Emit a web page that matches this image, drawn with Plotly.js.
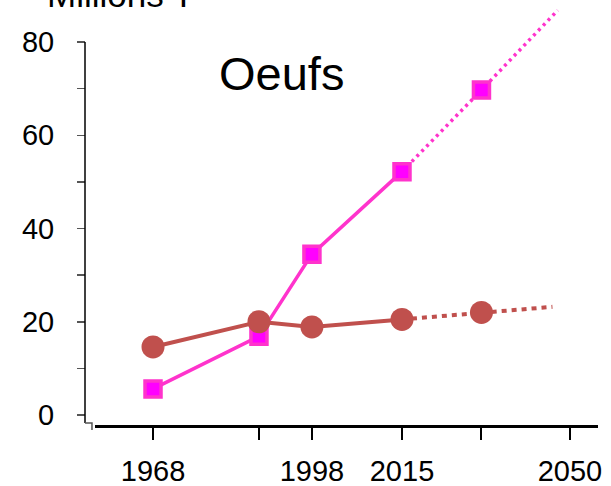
<!DOCTYPE html>
<html>
<head>
<meta charset="utf-8">
<script src="https://cdn.plot.ly/plotly-3.0.1.min.js"></script>
<style>
  html, body { margin: 0; padding: 0; background: #fff; }
  #chart { width: 611px; height: 486px; }
</style>
</head>
<body>
<div id="chart"></div>
<script>
// observed years and values (millions of tonnes)
var years = [1968, 1988, 1998, 2015];
var eggsPink = [5.6, 16.9, 34.5, 52.2];
var otherBrown = [14.6, 20.0, 18.9, 20.5];

// projections (dotted part)
var projYears = [2015, 2030];
var projPink = [52.2, 69.7];
var projBrown = [20.5, 22.0];
var projEnd = {pinkYear: 2044.4, pink: 86.8, brownYear: 2043.4, brown: 23.2};

// axis labels
var yTicks = [0, 10, 20, 30, 40, 50, 60, 70, 80];
var yTickText = ['0', '', '20', '', '40', '', '60', '', '80'];
var xTicks = [1968, 1988, 1998, 2015, 2030, 2046.7];
var xTickText = ['1968', '', '1998', '2015', '', '2050'];

var pink = '#ff33cc';
var brown = '#c0504d';

var traces = [
  // dotted projections first so markers sit on top
  {
    x: projYears.concat([projEnd.pinkYear]),
    y: projPink.concat([projEnd.pink]),
    mode: 'lines', line: {color: pink, width: 3.5, dash: '3px,4px'},
    hoverinfo: 'skip'
  },
  {
    x: projYears.concat([projEnd.brownYear]),
    y: projBrown.concat([projEnd.brown]),
    mode: 'lines', line: {color: brown, width: 4, dash: '5px,5px'},
    hoverinfo: 'skip'
  },
  {
    x: years, y: eggsPink,
    mode: 'lines', line: {color: pink, width: 3.5}
  },
  {
    x: years, y: otherBrown,
    mode: 'lines', line: {color: brown, width: 4}
  },
  {
    x: years.concat([projYears[1]]), y: eggsPink.concat([projPink[1]]),
    mode: 'markers',
    marker: {symbol: 'square', size: 16, color: '#ff00ff', line: {color: pink, width: 3.5}},
    cliponaxis: false
  },
  {
    x: years.concat([projYears[1]]), y: otherBrown.concat([projBrown[1]]),
    mode: 'markers',
    marker: {symbol: 'circle', size: 23, color: brown},
    cliponaxis: false
  }
];

var layout = {
  width: 611,
  height: 486,
  margin: {l: 85, r: 13, t: 5, b: 61},
  paper_bgcolor: '#fff',
  plot_bgcolor: '#fff',
  showlegend: false,
  font: {family: '"Liberation Sans", Arial, sans-serif', color: '#000', size: 29},
  xaxis: {
    domain: [0.0195, 1],
    range: [1957.05, 2052.0],
    tickmode: 'array', tickvals: xTicks, ticktext: xTickText,
    ticks: 'outside', ticklen: 12, tickwidth: 2, tickcolor: '#000',
    showline: true, linecolor: '#000', linewidth: 2.5,
    showgrid: false, zeroline: false,
    ticklabelstandoff: 7,
    tickfont: {size: 29}
  },
  yaxis: {
    anchor: 'free', position: 0,
    range: [-2.145, 87.94],
    tickmode: 'array', tickvals: yTicks, ticktext: yTickText,
    ticks: 'outside', ticklen: 8, tickwidth: 1.5, tickcolor: '#555',
    showline: false, showgrid: false, zeroline: false,
    ticklabelstandoff: 17,
    tickfont: {size: 29}
  },
  shapes: [
    // y axis line from 80 down to the bottom, with the little hook
    {type: 'line', xref: 'paper', yref: 'y', x0: 0, x1: 0, y0: -1.7, y1: 80,
     line: {color: '#000', width: 1.5}},
    {type: 'path', xref: 'paper', yref: 'paper',
     path: 'M 0 0.0048 L 0.0136 0.0048 L 0.0136 -0.012',
     line: {color: '#555', width: 1.5}}
  ],
  annotations: [
    {text: 'Oeufs', xref: 'paper', yref: 'paper', x: 0.383, y: 0.836,
     xanchor: 'center', yanchor: 'middle', showarrow: false,
     font: {size: 47, color: '#000'}},
    {text: 'Millions T', xref: 'paper', yref: 'paper', x: -0.078, y: 0.974,
     xanchor: 'left', yanchor: 'bottom', showarrow: false,
     font: {size: 35, color: '#000'}}
  ]
};

Plotly.newPlot('chart', traces, layout, {displayModeBar: false, staticPlot: true});
</script>
</body>
</html>
